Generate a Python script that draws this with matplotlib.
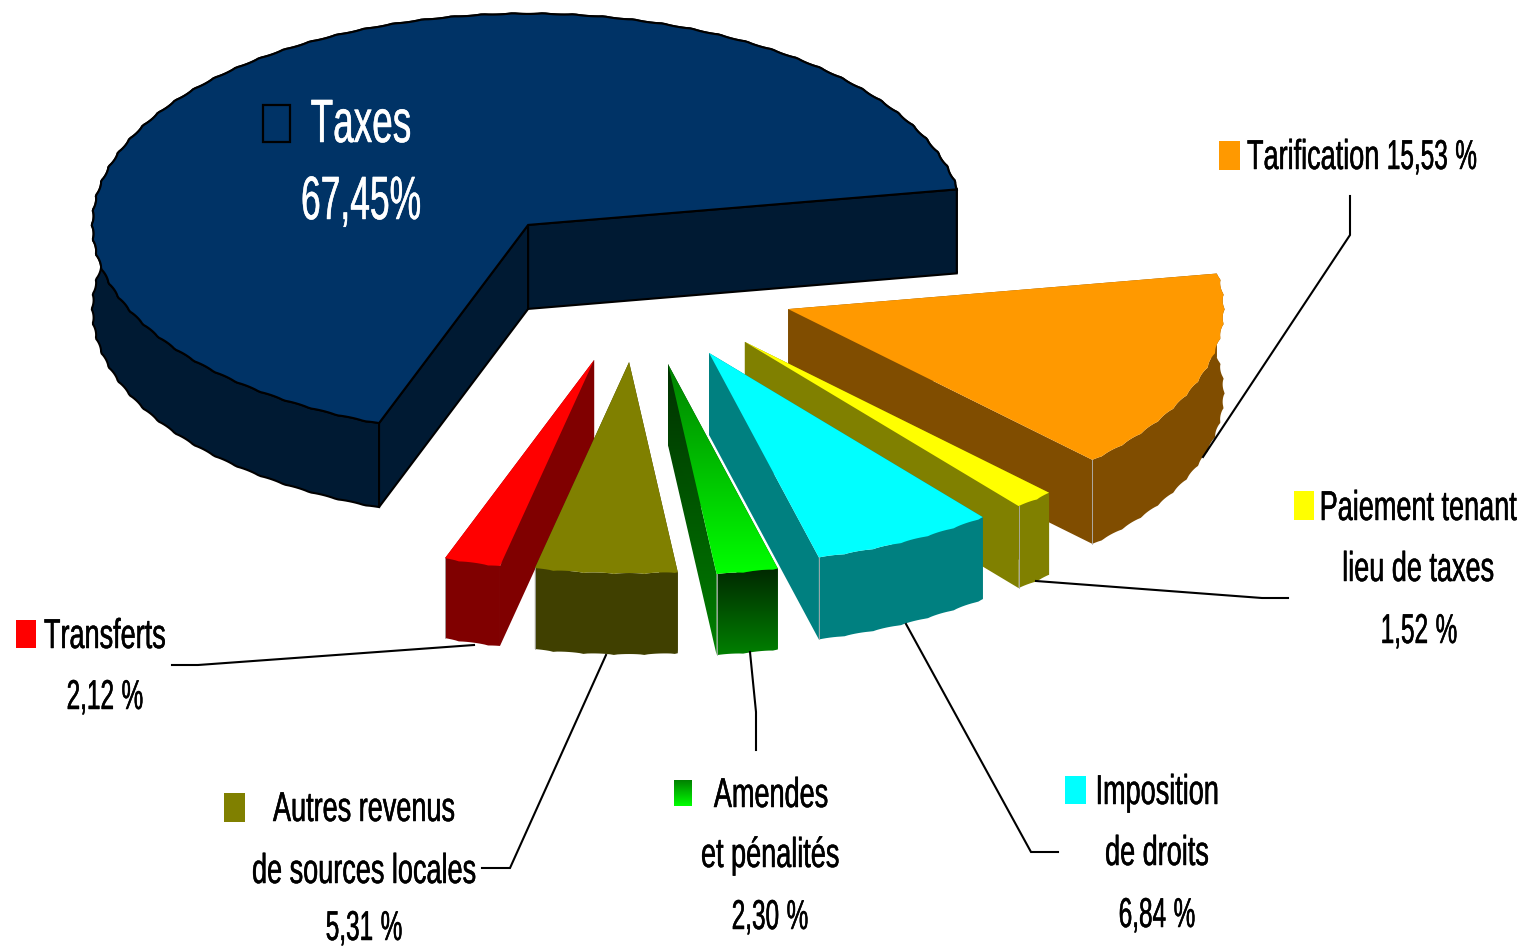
"""
Exploded 3D pie of revenue shares, drawn by hand since matplotlib has no 3D pie.
"""

#Imports
import os
import tempfile

import matplotlib
matplotlib.use("Agg")
import matplotlib.patheffects as path_effects
import matplotlib.pyplot as plt
import numpy as np
from fontTools.ttLib import TTFont
from matplotlib import font_manager
from matplotlib.colors import LinearSegmentedColormap
from matplotlib.patches import Polygon, Rectangle

#Data, starts at Taxes and goes counterclockwise
names = ["Taxes", "Transferts", "Autres", "Amendes", "Imposition", "Paiement", "Tarification"]
values = [67.45, 2.12, 5.31, 2.30, 6.84, 1.52, 15.53]

#Colours
top_colors = ["#003366", "#FF0000", "#808000", "#00FF00", "#00FFFF", "#FFFF00", "#FF9900"]
side_colors = ["#001A33", "#800000", "#404000", "#008000", "#008080", "#808000", "#804D00"]

#Pie layout, in pixels of the figure
center = (640, 290)
radius_x = 437
radius_y = 212
depths = [84, 80, 81, 81, 82, 82, 84]
start_angle = 9.7
explode_x = [-0.256, -0.105, -0.025, 0.064, 0.158, 0.240, 0.339]
explode_y = [-0.307, 0.330, 0.340, 0.349, 0.297, 0.245, 0.090]
draw_order = [0, 6, 5, 4, 3, 1, 2]

#Leader lines
leaders = [
    [(1350, 196), (1350, 235), (1203, 457)],
    [(1036, 581), (1262, 598), (1288, 598)],
    [(906, 624), (1031, 852), (1058, 852)],
    [(750, 652), (756, 712), (756, 750)],
    [(606, 655), (510, 868), (482, 868)],
    [(474, 645), (198, 665), (172, 665)],
]

digit_glyphs = ["zero", "one", "two", "three", "four", "five", "six", "seven", "eight", "nine", "comma", "percent"]


def make_condensed_font(family, letter_width, digit_width):

    #The reference uses a very narrow face, so squeeze Liberation Sans into a new font file
    font = TTFont(font_manager.findfont("Liberation Sans"))
    for table in ["kern", "GPOS", "fpgm", "prep", "cvt ", "hdmx", "VDMX", "LTSH"]:
        if table in font:
            del font[table]

    glyf = font["glyf"]
    for name in glyf.keys():
        width = digit_width if name in digit_glyphs else letter_width
        glyph = glyf[name]
        if glyph.isComposite():
            for component in glyph.components:
                component.x = int(component.x * width)
        elif glyph.numberOfContours > 0:
            glyph.coordinates.scale((width, 1))
            glyph.recalcBounds(glyf)
            glyph.removeHinting()
    for name, (advance, lsb) in font["hmtx"].metrics.items():
        width = digit_width if name in digit_glyphs else letter_width
        font["hmtx"].metrics[name] = (int(advance * width), int(lsb * width))

    for record in font["name"].names:
        if record.nameID in (1, 3, 4, 6, 16):
            record.string = family

    path = os.path.join(tempfile.mkdtemp(), family + ".ttf")
    font.save(path)
    font_manager.fontManager.addfont(path)
    return family


def arc_points(apex, angle_from, angle_to):

    #Points of the rim, with the small scallops of the original rendering
    angles = np.arange(angle_from, angle_to, 0.5)
    angles = np.append(angles, angle_to)
    scallop = 1 - 0.005 * np.abs(np.sin(np.radians(angles) * 45)) ** 0.6
    xs = apex[0] + radius_x * scallop * np.cos(np.radians(angles))
    ys = apex[1] - radius_y * scallop * np.sin(np.radians(angles))
    return np.column_stack([xs, ys])


def gradient_fill(ax, verts, color_from, color_to, zorder):

    #Vertical gradient clipped to a polygon
    verts = np.array(verts)
    cmap = LinearSegmentedColormap.from_list("grad", [color_from, color_to])
    x0, y0 = verts.min(axis=0)
    x1, y1 = verts.max(axis=0)
    image = ax.imshow(np.linspace(0, 1, 256).reshape(-1, 1), cmap=cmap, aspect="auto",
                      extent=(x0, x1, y1, y0), origin="upper", zorder=zorder)
    clip = Polygon(verts, closed=True, transform=ax.transData, fc="none", ec="none")
    ax.add_patch(clip)
    image.set_clip_path(clip)


def draw_slice(ax, index, angle_from, angle_to, zorder):

    depth = depths[index]
    apex = (center[0] + explode_x[index] * radius_x, center[1] + explode_y[index] * radius_y)
    rim = arc_points(apex, angle_from, angle_to)
    lowered = rim + [0, depth]
    apex_low = (apex[0], apex[1] + depth)

    top = np.vstack([[apex], rim])
    outer = np.vstack([rim, lowered[::-1]])
    cut_from = [apex, rim[0], lowered[0], apex_low]
    cut_to = [apex, rim[-1], lowered[-1], apex_low]

    is_taxes = names[index] == "Taxes"
    edge = "black" if is_taxes else "none"
    line = 1.5 if is_taxes else 0

    if names[index] == "Amendes":
        gradient_fill(ax, cut_from, "#003000", "#008000", zorder)
        gradient_fill(ax, outer, "#002800", "#008000", zorder + 0.1)
        gradient_fill(ax, cut_to, "#003000", "#008000", zorder + 0.05)
        gradient_fill(ax, top, "#008000", "#00FF00", zorder + 0.2)
    else:
        for face in [outer, cut_to, cut_from]:
            ax.add_patch(Polygon(face, closed=True, fc=side_colors[index], ec=edge, lw=line, zorder=zorder))
        ax.add_patch(Polygon(top, closed=True, fc=top_colors[index], ec=edge, lw=line, zorder=zorder + 0.2))

    #Thin light line where the cut meets the rim
    if not is_taxes:
        ax.plot([rim[0][0], lowered[0][0]], [rim[0][1], lowered[0][1]], color="#B0B0B0", lw=0.6, zorder=zorder + 0.1)


def draw_labels(ax, small_family, big_family):

    def percent(name):
        value = values[names.index(name)]
        return "{:.2f}".format(value).replace(".", ",")

    black_stroke = [path_effects.withStroke(linewidth=0.35, foreground="black")]
    white_stroke = [path_effects.withStroke(linewidth=0.35, foreground="white")]
    black = {"family": small_family, "fontsize": 30, "color": "black", "va": "baseline",
             "path_effects": black_stroke, "zorder": 30}
    white = {"family": big_family, "fontsize": 44, "color": "white", "va": "baseline", "ha": "center",
             "path_effects": white_stroke, "zorder": 30}

    ax.text(361, 142, "Taxes", **white)
    ax.text(361, 219, percent("Taxes") + "%", **white)

    ax.text(1247, 169, "Tarification " + percent("Tarification") + " %", ha="left", **black)
    ax.text(1418, 520, "Paiement tenant", ha="center", **black)
    ax.text(1418, 581, "lieu de taxes", ha="center", **black)
    ax.text(1419, 643, percent("Paiement") + " %", ha="center", **black)
    ax.text(1157, 804, "Imposition", ha="center", **black)
    ax.text(1157, 865, "de droits", ha="center", **black)
    ax.text(1157, 927, percent("Imposition") + " %", ha="center", **black)
    ax.text(771, 807, "Amendes", ha="center", **black)
    ax.text(770, 867, "et pénalités", ha="center", **black)
    ax.text(770, 929, percent("Amendes") + " %", ha="center", **black)
    ax.text(364, 821, "Autres revenus", ha="center", **black)
    ax.text(364, 883, "de sources locales", ha="center", **black)
    ax.text(364, 940, percent("Autres") + " %", ha="center", **black)
    ax.text(105, 648, "Transferts", ha="center", **black)
    ax.text(105, 709, percent("Transferts") + " %", ha="center", **black)


def draw_legend_marks(ax):

    ax.add_patch(Rectangle((263, 105), 27, 37, fc="none", ec="black", lw=1.6, zorder=30))
    ax.add_patch(Rectangle((1219, 141), 21, 29, fc=top_colors[6], zorder=30))
    ax.add_patch(Rectangle((1294, 491), 20, 29, fc=top_colors[5], zorder=30))
    ax.add_patch(Rectangle((16, 620), 20, 28, fc=top_colors[1], zorder=30))
    ax.add_patch(Rectangle((224, 793), 21, 29, fc=top_colors[2], zorder=30))
    ax.add_patch(Rectangle((1065, 776), 21, 28, fc=top_colors[4], zorder=30))
    gradient_fill(ax, [(674, 780), (692, 780), (692, 806), (674, 806)], "#008000", "#00FF00", 30)


def main():

    small_family = make_condensed_font("CondensedLabel", 0.65, 0.585)
    big_family = make_condensed_font("CondensedTitle", 0.605, 0.58)

    fig = plt.figure(figsize=(15.19, 9.47), dpi=100)
    ax = fig.add_axes([0, 0, 1, 1])

    shares = np.array(values) / sum(values) * 360
    edges = start_angle + np.concatenate([[0], np.cumsum(shares)])

    for position, index in enumerate(draw_order):
        draw_slice(ax, index, edges[index], edges[index + 1], position + 1)

    for leader in leaders:
        xs, ys = zip(*leader)
        ax.plot(xs, ys, color="black", lw=1.5, zorder=20, solid_joinstyle="miter")

    draw_legend_marks(ax)
    draw_labels(ax, small_family, big_family)

    ax.set_xlim(0, 1519)
    ax.set_ylim(947, 0)
    ax.axis("off")
    fig.savefig("out.png", dpi=100)


main()
